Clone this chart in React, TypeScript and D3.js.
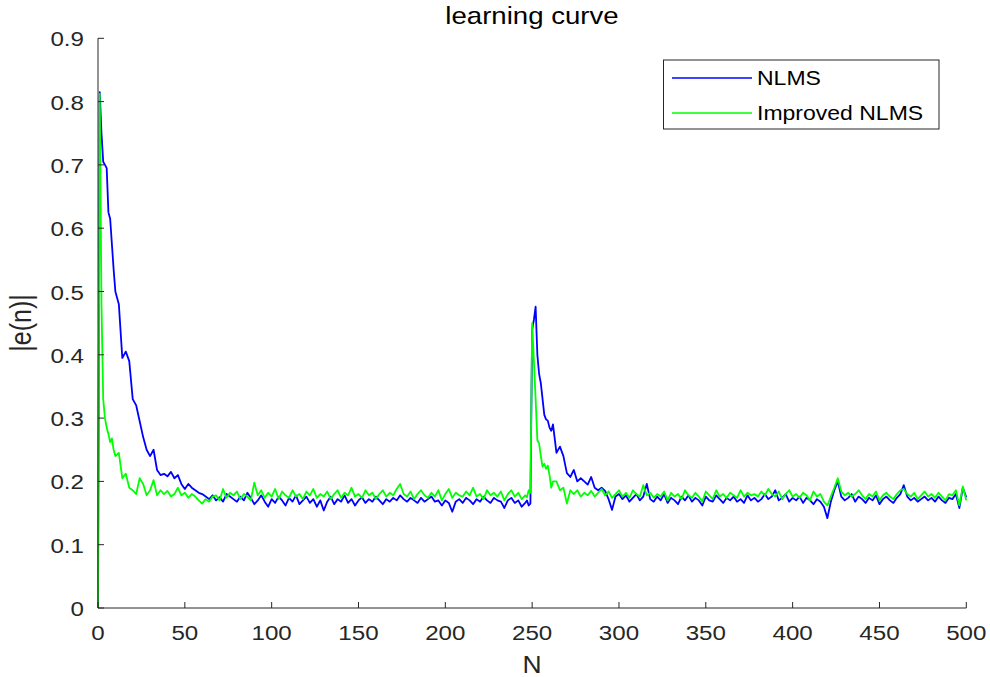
import React from "react";
import * as d3 from "d3";

// sample positions of each stretch of the curves
const headN = d3.range(0, 11);
const midN = d3.range(12, 247, 2);
const spikeN = d3.range(247, 263);
const tailN = d3.range(264, 501, 2);

// NLMS |e(n)|
const nlmsHead = [0, 0.815, 0.75, 0.705, 0.70, 0.695, 0.625, 0.615, 0.575, 0.535, 0.50];
const nlmsMid = [
  0.48, 0.395, 0.405, 0.39, 0.33, 0.32, 0.295, 0.27, 0.25, 0.24,
  0.25, 0.218, 0.21, 0.212, 0.208, 0.215, 0.205, 0.21, 0.196, 0.188,
  0.196, 0.19, 0.186, 0.182, 0.18, 0.176, 0.172, 0.178, 0.17, 0.175,
  0.168, 0.18, 0.176, 0.172, 0.168, 0.176, 0.17, 0.182, 0.174, 0.164,
  0.17, 0.178, 0.168, 0.16, 0.172, 0.166, 0.176, 0.17, 0.162, 0.174,
  0.168, 0.178, 0.164, 0.17, 0.176, 0.166, 0.172, 0.16, 0.17, 0.154,
  0.168, 0.176, 0.164, 0.172, 0.168, 0.178, 0.166, 0.172, 0.162, 0.17,
  0.175, 0.166, 0.172, 0.168, 0.176, 0.17, 0.164, 0.172, 0.168, 0.174,
  0.17, 0.178, 0.172, 0.168, 0.174, 0.17, 0.166, 0.174, 0.168, 0.172,
  0.176, 0.168, 0.17, 0.162, 0.17, 0.166, 0.152, 0.168, 0.172, 0.166,
  0.174, 0.17, 0.164, 0.172, 0.168, 0.176, 0.17, 0.166, 0.174, 0.17,
  0.168, 0.158, 0.17, 0.174, 0.166, 0.17, 0.16, 0.166,
];
const nlmsSpike = [0.17, 0.162, 0.165, 0.44, 0.455, 0.476, 0.40, 0.37, 0.355, 0.33, 0.305, 0.298, 0.296, 0.285, 0.28, 0.29];
const nlmsTail = [
  0.245, 0.255, 0.24, 0.213, 0.207, 0.218, 0.20, 0.205, 0.20, 0.195,
  0.207, 0.19, 0.186, 0.19, 0.185, 0.172, 0.155, 0.176, 0.18, 0.172,
  0.178, 0.168, 0.174, 0.18, 0.17, 0.176, 0.196, 0.172, 0.168, 0.176,
  0.17, 0.18, 0.166, 0.174, 0.17, 0.164, 0.176, 0.17, 0.178, 0.168,
  0.174, 0.17, 0.162, 0.176, 0.17, 0.168, 0.178, 0.172, 0.166, 0.174,
  0.17, 0.176, 0.168, 0.172, 0.166, 0.178, 0.17, 0.174, 0.168, 0.172,
  0.18, 0.172, 0.176, 0.186, 0.17, 0.174, 0.18, 0.168, 0.174, 0.17,
  0.176, 0.166, 0.174, 0.17, 0.164, 0.172, 0.168, 0.16, 0.142, 0.168,
  0.186, 0.2, 0.176, 0.17, 0.174, 0.18, 0.168, 0.176, 0.172, 0.166,
  0.174, 0.17, 0.178, 0.164, 0.172, 0.176, 0.17, 0.166, 0.174, 0.18,
  0.194, 0.176, 0.17, 0.174, 0.168, 0.172, 0.176, 0.17, 0.174, 0.168,
  0.176, 0.17, 0.166, 0.174, 0.172, 0.18, 0.158, 0.19, 0.175,
];

// Improved NLMS |e(n)|
const improvedHead = [0, 0.812, 0.48, 0.33, 0.30, 0.285, 0.275, 0.262, 0.268, 0.25, 0.24];
const improvedMid = [
  0.245, 0.205, 0.212, 0.19, 0.186, 0.18, 0.205, 0.196, 0.178, 0.186,
  0.202, 0.178, 0.186, 0.18, 0.185, 0.176, 0.18, 0.19, 0.178, 0.182,
  0.174, 0.18, 0.176, 0.17, 0.165, 0.172, 0.168, 0.176, 0.178, 0.17,
  0.188, 0.174, 0.182, 0.178, 0.184, 0.172, 0.18, 0.176, 0.17, 0.198,
  0.178, 0.186, 0.174, 0.182, 0.176, 0.188, 0.172, 0.184, 0.178, 0.174,
  0.186, 0.176, 0.18, 0.172, 0.184, 0.178, 0.188, 0.174, 0.18, 0.176,
  0.184, 0.172, 0.18, 0.186, 0.174, 0.182, 0.178, 0.19, 0.176, 0.18,
  0.174, 0.186, 0.178, 0.182, 0.172, 0.18, 0.186, 0.176, 0.182, 0.178,
  0.188, 0.196, 0.18, 0.176, 0.184, 0.172, 0.18, 0.186, 0.178, 0.174,
  0.182, 0.176, 0.186, 0.17, 0.18, 0.188, 0.174, 0.182, 0.178, 0.176,
  0.184, 0.178, 0.19, 0.176, 0.18, 0.172, 0.186, 0.178, 0.182, 0.176,
  0.184, 0.17, 0.18, 0.186, 0.176, 0.182, 0.172, 0.178,
];
const improvedSpike = [0.175, 0.186, 0.182, 0.45, 0.39, 0.33, 0.265, 0.26, 0.24, 0.223, 0.228, 0.22, 0.225, 0.21, 0.19, 0.2];
const improvedTail = [
  0.2, 0.186, 0.19, 0.165, 0.186, 0.18, 0.186, 0.176, 0.182, 0.178,
  0.185, 0.176, 0.182, 0.188, 0.178, 0.184, 0.174, 0.18, 0.186, 0.176,
  0.182, 0.174, 0.186, 0.18, 0.176, 0.194, 0.178, 0.182, 0.174, 0.18,
  0.176, 0.184, 0.17, 0.182, 0.176, 0.18, 0.172, 0.186, 0.178, 0.174,
  0.182, 0.176, 0.168, 0.184, 0.178, 0.172, 0.186, 0.176, 0.18, 0.174,
  0.182, 0.178, 0.174, 0.186, 0.176, 0.182, 0.178, 0.18, 0.176, 0.184,
  0.178, 0.188, 0.18, 0.176, 0.184, 0.172, 0.18, 0.186, 0.176, 0.18,
  0.174, 0.182, 0.178, 0.17, 0.184, 0.176, 0.18, 0.168, 0.162, 0.176,
  0.19, 0.205, 0.184, 0.178, 0.182, 0.176, 0.18, 0.186, 0.178, 0.172,
  0.18, 0.176, 0.184, 0.17, 0.178, 0.182, 0.176, 0.172, 0.18, 0.186,
  0.188, 0.18, 0.176, 0.182, 0.172, 0.178, 0.184, 0.176, 0.18, 0.174,
  0.182, 0.176, 0.17, 0.18, 0.178, 0.186, 0.162, 0.192, 0.17,
];

const xTicks = [0, 50, 100, 150, 200, 250, 300, 350, 400, 450, 500];
const yTicks = [0, 0.1, 0.2, 0.3, 0.4, 0.5, 0.6, 0.7, 0.8, 0.9];

const W = 990;
const H = 677;
const ink = "#262626";
const font = "'Liberation Sans', Arial, Helvetica, sans-serif";
const STRETCH = 1.15;

function join(parts: [number[], number[]][]) {
  const out: [number, number][] = [];
  parts.forEach(([ns, vs]) => ns.forEach((n, i) => out.push([n, vs[i]])));
  return out;
}

const series = [
  {
    name: "NLMS",
    color: "#0000ff",
    data: join([[headN, nlmsHead], [midN, nlmsMid], [spikeN, nlmsSpike], [tailN, nlmsTail]]),
  },
  {
    name: "Improved NLMS",
    color: "#00ff00",
    data: join([[headN, improvedHead], [midN, improvedMid], [spikeN, improvedSpike], [tailN, improvedTail]]),
  },
];

function Label(props: { x: number; y: number; size: number; anchor?: string; rotate?: number; children: React.ReactNode; fill?: string }) {
  const { x, y, size, anchor = "start", rotate = 0, children, fill = ink } = props;
  return (
    <text
      transform={`translate(${x},${y}) scale(${STRETCH},1) rotate(${rotate})`}
      fontSize={size}
      fontFamily={font}
      textAnchor={anchor}
      fill={fill}
    >
      {children}
    </text>
  );
}

export default function App() {
  const left = 98, right = 966.3, top = 38.3, bottom = 608;
  const x = d3.scaleLinear().domain([0, 500]).range([left, right]);
  const y = d3.scaleLinear().domain([0, 0.9]).range([bottom, top]);
  const line = d3.line<[number, number]>().x(d => x(d[0])).y(d => y(d[1]));
  const tick = 6;

  const legend = { x: 663.5, y: 60, w: 275.5, h: 69 };
  const rows = [78, 113];

  return (
    <svg width={W} height={H} style={{ position: "absolute", left: 0, top: 0, background: "#fff" }}>
      <rect width={W} height={H} fill="#fff" />
      <g fill="none" strokeWidth={1.8} strokeLinejoin="round">
        {series.map(s => (
          <path key={s.name} d={line(s.data) || ""} stroke={s.color} />
        ))}
      </g>

      <g stroke={ink} strokeWidth={1} fill="none">
        <line x1={left} x2={left} y1={top} y2={bottom} />
        <line x1={left} x2={right} y1={bottom} y2={bottom} />
        {yTicks.map(t => (
          <line key={t} x1={left} x2={left + tick} y1={y(t)} y2={y(t)} />
        ))}
        {xTicks.map(t => (
          <line key={t} x1={x(t)} x2={x(t)} y1={bottom} y2={bottom - tick} />
        ))}
      </g>

      {yTicks.map(t => (
        <Label key={t} x={84} y={y(t) + 8} size={21} anchor="end">
          {d3.format("")(+t.toFixed(1))}
        </Label>
      ))}
      {xTicks.map(t => (
        <Label key={t} x={x(t)} y={640} size={21} anchor="middle">
          {t}
        </Label>
      ))}

      <Label x={532} y={24} size={24} anchor="middle" fill="#000">learning curve</Label>
      <Label x={532} y={673} size={23} anchor="middle">N</Label>
      <text
        transform={`translate(31,323) scale(${STRETCH},1) rotate(-90)`}
        fontSize={25}
        fontFamily={font}
        textAnchor="middle"
        fill={ink}
      >
        |e(n)|
      </text>

      <rect x={legend.x} y={legend.y} width={legend.w} height={legend.h} fill="#fff" stroke={ink} strokeWidth={1} />
      {series.map((s, i) => (
        <g key={s.name}>
          <line x1={672} x2={752} y1={rows[i]} y2={rows[i]} stroke={s.color} strokeWidth={1.5} />
          <Label x={757} y={rows[i] + 7} size={20} fill="#000">{s.name}</Label>
        </g>
      ))}
    </svg>
  );
}
